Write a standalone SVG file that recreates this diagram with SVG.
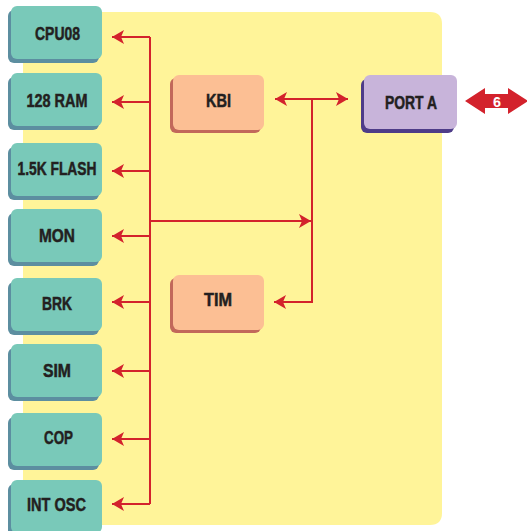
<svg xmlns="http://www.w3.org/2000/svg" width="527" height="531" viewBox="0 0 527 531">
<defs>
<style>
.bg{fill:#fff499}
.ts{fill:#5c8ea0}.tf{fill:#79c9b9}
.ss{fill:#c2685a}.sf{fill:#fcbf94}
.ps{fill:#4e3c88}.pf{fill:#c8b4da}
.lbl{font-family:"Liberation Sans",Arial,sans-serif;font-weight:bold;font-size:18px;fill:#231f20;stroke:#231f20;stroke-width:0.5;text-anchor:middle}
.ln{stroke:#d3222c;stroke-width:2;fill:none}
</style>
<marker id="ah" markerUnits="userSpaceOnUse" markerWidth="13" markerHeight="14" refX="12" refY="7" orient="auto-start-reverse" viewBox="0 0 13 14">
<path d="M0,0 L12,7 L0,14 L3,7 Z" fill="#d3222c"/>
</marker>
</defs>
<rect width="527" height="531" fill="#ffffff"/>
<path class="bg" d="M23,12 H430 Q442,12 442,24 V513 Q442,525 430,525 H23 Z"/>

<g id="cpu08"><rect class="ts" x="8" y="10" width="91" height="53" rx="6"/><rect class="tf" x="11" y="6" width="91" height="53" rx="6"/><text class="lbl" x="57.5" y="40" textLength="45" lengthAdjust="spacingAndGlyphs">CPU08</text></g>
<g id="ram"><rect class="ts" x="8" y="77" width="91" height="53" rx="6"/><rect class="tf" x="11" y="73" width="91" height="53" rx="6"/><text class="lbl" x="57" y="107" textLength="61" lengthAdjust="spacingAndGlyphs">128 RAM</text></g>
<g id="flash"><rect class="ts" x="8" y="147" width="91" height="53" rx="6"/><rect class="tf" x="11" y="143" width="91" height="53" rx="6"/><text class="lbl" x="57" y="175" textLength="79" lengthAdjust="spacingAndGlyphs">1.5K FLASH</text></g>
<g id="mon"><rect class="ts" x="8" y="213" width="91" height="53" rx="6"/><rect class="tf" x="11" y="209" width="91" height="53" rx="6"/><text class="lbl" x="57" y="242" textLength="36" lengthAdjust="spacingAndGlyphs">MON</text></g>
<g id="brk"><rect class="ts" x="8" y="282" width="91" height="53" rx="6"/><rect class="tf" x="11" y="278" width="91" height="53" rx="6"/><text class="lbl" x="57" y="310" textLength="30" lengthAdjust="spacingAndGlyphs">BRK</text></g>
<g id="sim"><rect class="ts" x="8" y="348" width="91" height="53" rx="6"/><rect class="tf" x="11" y="344" width="91" height="53" rx="6"/><text class="lbl" x="57" y="377" textLength="28" lengthAdjust="spacingAndGlyphs">SIM</text></g>
<g id="cop"><rect class="ts" x="8" y="417" width="91" height="53" rx="6"/><rect class="tf" x="11" y="413" width="91" height="53" rx="6"/><text class="lbl" x="58.5" y="444" textLength="29" lengthAdjust="spacingAndGlyphs">COP</text></g>
<g id="intosc"><rect class="ts" x="8" y="484" width="91" height="53" rx="6"/><rect class="tf" x="11" y="480" width="91" height="53" rx="6"/><text class="lbl" x="56.5" y="511" textLength="59" lengthAdjust="spacingAndGlyphs">INT OSC</text></g>

<g id="kbi"><rect class="ss" x="170" y="78" width="91" height="55" rx="6"/><rect class="sf" x="173" y="75" width="91" height="55" rx="6"/><text class="lbl" x="218.5" y="107" textLength="25" lengthAdjust="spacingAndGlyphs">KBI</text></g>
<g id="tim"><rect class="ss" x="170" y="278" width="91" height="55" rx="6"/><rect class="sf" x="173" y="275" width="91" height="55" rx="6"/><text class="lbl" x="218" y="306" textLength="28" lengthAdjust="spacingAndGlyphs">TIM</text></g>
<g id="porta"><rect class="ps" x="361" y="79" width="93" height="54" rx="6"/><rect class="pf" x="364" y="75" width="93" height="54" rx="6"/><text class="lbl" x="411" y="109" textLength="52" lengthAdjust="spacingAndGlyphs">PORT A</text></g>

<g id="connectors">
<path class="ln" d="M150,37 V504"/>
<path class="ln" d="M150,37 H112" marker-end="url(#ah)"/>
<path class="ln" d="M150,102 H112" marker-end="url(#ah)"/>
<path class="ln" d="M150,171 H112" marker-end="url(#ah)"/>
<path class="ln" d="M150,236 H112" marker-end="url(#ah)"/>
<path class="ln" d="M150,302 H112" marker-end="url(#ah)"/>
<path class="ln" d="M150,371 H112" marker-end="url(#ah)"/>
<path class="ln" d="M150,439 H112" marker-end="url(#ah)"/>
<path class="ln" d="M150,504 H112" marker-end="url(#ah)"/>
<path class="ln" d="M150,221 H311" marker-end="url(#ah)"/>
<path class="ln" d="M275,99 H348" marker-start="url(#ah)" marker-end="url(#ah)"/>
<path class="ln" d="M312,99 V302 H274" marker-end="url(#ah)"/>
<g id="bus6">
<path d="M465,101 L485,88 L485,94 L508,94 L508,88 L528,101 L508,114 L508,108 L485,108 L485,114 Z" fill="#d3222c"/>
<text x="497" y="107" textLength="8" lengthAdjust="spacingAndGlyphs" style="font-family:'Liberation Sans',Arial,sans-serif;font-weight:bold;font-size:14px;fill:#ffffff;text-anchor:middle">6</text>
</g>
</g>
</svg>
